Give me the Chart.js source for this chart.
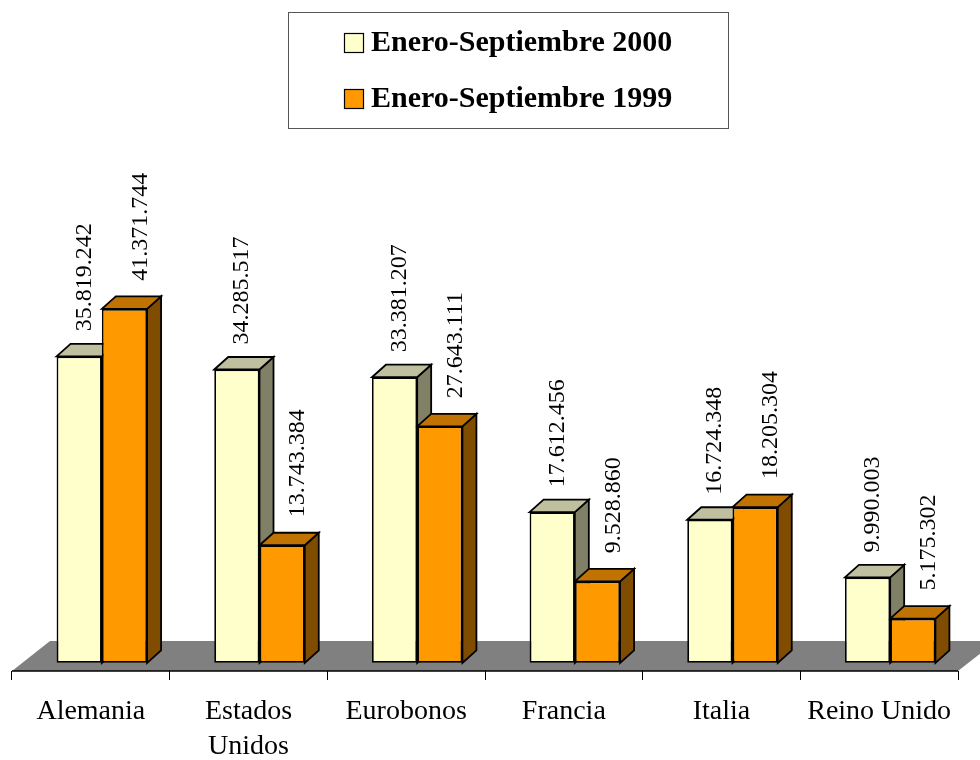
<!DOCTYPE html>
<html>
<head>
<meta charset="utf-8">
<title>Enero-Septiembre 2000 / 1999</title>
<script src="https://cdn.jsdelivr.net/npm/chart.js@4.4.1/dist/chart.umd.min.js"></script>
<style>
  html, body { margin: 0; padding: 0; background: #fff; }
</style>
</head>
<body>
<canvas id="chart" width="980" height="760"></canvas>
<script>
// Data
const categories = ['Alemania', ['Estados', 'Unidos'], 'Eurobonos', 'Francia', 'Italia', 'Reino Unido'];
const seriesNames = ['Enero-Septiembre 2000', 'Enero-Septiembre 1999'];
const values2000 = [35819242, 34285517, 33381207, 17612456, 16724348, 9990003];
const values1999 = [41371744, 13743384, 27643111, 9528860, 18205304, 5175302];

// Look of the 3D blocks
const FONT = '"Liberation Serif", "Times New Roman", serif';
const faces = [
    { front: '#FFFFCC', top: '#C0C0A0', side: '#808066' },
    { front: '#FF9900', top: '#C07300', side: '#7F4C00' }
];
const DEPTH_X = 14, DEPTH_Y = 12.5;   // depth of each block
const SHIFT_X = 11;                   // blocks stand a little back on the floor
const FLOOR_X = 38, FLOOR_Y = 30;     // depth of the grey floor
const EDGE = 1.8;
const LABEL_DX = [5, 16];
const LABEL_GAP = [25, 28];

function fmt(n) {
    return String(n).replace(/\B(?=(\d{3})+(?!\d))/g, '.');
}

function poly(ctx, pts, fill) {
    ctx.beginPath();
    ctx.moveTo(pts[0][0], pts[0][1]);
    for (let i = 1; i < pts.length; i++) ctx.lineTo(pts[i][0], pts[i][1]);
    ctx.closePath();
    ctx.fillStyle = fill;
    ctx.fill();
    ctx.stroke();
}

// Floor, block tops and sides, and the value labels
const bars3d = {
    id: 'bars3d',
    beforeDatasetsDraw(chart) {
        const { ctx, chartArea: a } = chart;
        ctx.save();
        ctx.fillStyle = '#808080';
        ctx.beginPath();
        ctx.moveTo(a.left, a.bottom);
        ctx.lineTo(a.right, a.bottom);
        ctx.lineTo(a.right + FLOOR_X, a.bottom - FLOOR_Y);
        ctx.lineTo(a.left + FLOOR_X, a.bottom - FLOOR_Y);
        ctx.closePath();
        ctx.fill();
        ctx.strokeStyle = '#000';
        ctx.lineWidth = 1.5;
        ctx.beginPath();
        ctx.moveTo(a.left, a.bottom);
        ctx.lineTo(a.right, a.bottom);
        ctx.stroke();
        ctx.restore();

        // this save stays open while Chart.js draws the front faces
        ctx.save();
        ctx.translate(SHIFT_X, 0);
        ctx.lineWidth = EDGE;
        ctx.strokeStyle = '#000';
        ctx.lineJoin = 'miter';
        chart.data.datasets.forEach((ds, i) => {
            chart.getDatasetMeta(i).data.forEach(bar => {
                const { x, y, base, width } = bar.getProps(['x', 'y', 'base', 'width'], true);
                const l = x - width / 2, r = x + width / 2;
                poly(ctx, [[r, y], [r + DEPTH_X, y - DEPTH_Y], [r + DEPTH_X, base - DEPTH_Y], [r, base]], faces[i].side);
                poly(ctx, [[l, y], [l + DEPTH_X, y - DEPTH_Y], [r + DEPTH_X, y - DEPTH_Y], [r, y]], faces[i].top);
            });
        });
    },
    afterDatasetsDraw(chart) {
        const ctx = chart.ctx;
        ctx.restore();

        ctx.save();
        ctx.fillStyle = '#000';
        ctx.font = '24px ' + FONT;
        ctx.textAlign = 'left';
        ctx.textBaseline = 'middle';
        chart.data.datasets.forEach((ds, i) => {
            chart.getDatasetMeta(i).data.forEach((bar, j) => {
                const { x, y } = bar.getProps(['x', 'y'], true);
                ctx.save();
                ctx.translate(x + SHIFT_X + LABEL_DX[i], y - LABEL_GAP[i]);
                ctx.rotate(-Math.PI / 2);
                ctx.fillText(fmt(ds.data[j]), 0, 0);
                ctx.restore();
            });
        });
        ctx.restore();
    }
};

// Legend in a framed box, two rows
const boxLegend = {
    id: 'boxLegend',
    afterDraw(chart) {
        const ctx = chart.ctx;
        const box = { left: 288, top: 12, width: 440, height: 116 };
        ctx.save();
        ctx.strokeStyle = '#555';
        ctx.lineWidth = 1;
        ctx.strokeRect(box.left + 0.5, box.top + 0.5, box.width, box.height);

        ctx.font = 'bold 30px ' + FONT;
        ctx.textBaseline = 'middle';
        ctx.textAlign = 'left';
        const names = chart.data.datasets.map(d => d.label);
        const textW = Math.max(...names.map(n => ctx.measureText(n).width));
        const itemW = 20 + 7 + textW;
        const x0 = Math.round(box.left + (box.width - itemW) / 2);
        const rows = [box.top + 31, box.top + 87];
        names.forEach((n, i) => {
            ctx.fillStyle = faces[i].front;
            ctx.fillRect(x0, rows[i] - 10, 20, 20);
            ctx.strokeStyle = '#000';
            ctx.lineWidth = 1.2;
            ctx.strokeRect(x0 + 0.5, rows[i] - 9.5, 19, 19);
            ctx.fillStyle = '#000';
            ctx.fillText(n, x0 + 27, rows[i]);
        });
        ctx.restore();
    }
};

Chart.defaults.color = '#000';
Chart.defaults.font.family = FONT;

const ctx = document.getElementById('chart').getContext('2d');
const chart = new Chart(ctx, {
    type: 'bar',
    data: {
        labels: categories,
        datasets: [
            {
                label: seriesNames[0],
                data: values2000,
                backgroundColor: faces[0].front,
                borderColor: '#000',
                borderWidth: EDGE,
                borderSkipped: false
            },
            {
                label: seriesNames[1],
                data: values1999,
                backgroundColor: faces[1].front,
                borderColor: '#000',
                borderWidth: EDGE,
                borderSkipped: false
            }
        ]
    },
    options: {
        responsive: false,
        animation: false,
        devicePixelRatio: 1,
        datasets: {
            bar: { categoryPercentage: 0.574, barPercentage: 1.0 }
        },
        layout: {
            padding: { top: 235, left: 12, right: 22, bottom: 0 }
        },
        plugins: {
            legend: { display: false },
            tooltip: { enabled: false }
        },
        scales: {
            x: {
                offset: true,
                border: { display: false },
                grid: {
                    offset: true,
                    drawOnChartArea: false,
                    drawTicks: true,
                    tickLength: 9,
                    color: '#000',
                    lineWidth: 1
                },
                ticks: {
                    autoSkip: false,
                    maxRotation: 0,
                    minRotation: 0,
                    padding: 14,
                    font: { size: 28, family: FONT, lineHeight: 1.25 }
                },
                afterFit: s => { s.height = 89; }
            },
            y: {
                display: false,
                min: -950000,
                max: 50000000
            }
        }
    },
    plugins: [bars3d, boxLegend]
});
</script>
</body>
</html>
